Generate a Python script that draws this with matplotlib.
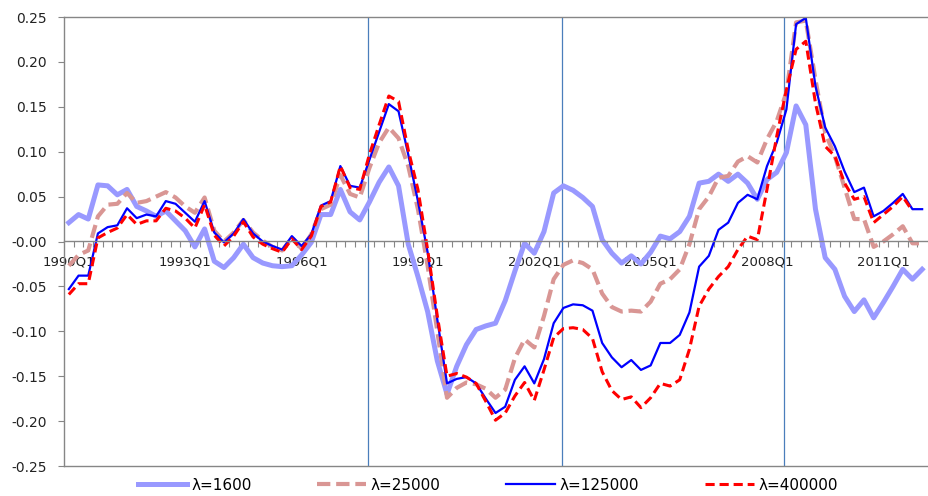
import matplotlib
matplotlib.use("Agg")
import matplotlib.pyplot as plt
from matplotlib.ticker import FixedLocator, FormatStrFormatter
import numpy as np

plt.rcParams['font.family'] = ['DejaVu Sans']
plt.rcParams['axes.unicode_minus'] = False

# quarterly gaps, 1990Q1 .. 2012Q1
lam_1600 = [0.021, 0.030, 0.025, 0.063, 0.062, 0.052, 0.058, 0.039, 0.034, 0.028,
            0.034, 0.023, 0.012, -0.006, 0.014, -0.022, -0.029, -0.018, -0.003, -0.018,
            -0.024, -0.027, -0.028, -0.027, -0.015, -0.001, 0.030, 0.030, 0.058, 0.033,
            0.024, 0.044, 0.066, 0.083, 0.062, -0.003, -0.039, -0.078, -0.133, -0.170,
            -0.139, -0.115, -0.098, -0.094, -0.091, -0.066, -0.033, -0.002, -0.013, 0.011,
            0.054, 0.062, 0.057, 0.049, 0.039, 0.002, -0.013, -0.024, -0.016, -0.025,
            -0.012, 0.006, 0.003, 0.011, 0.028, 0.065, 0.067, 0.075, 0.067, 0.075,
            0.065, 0.047, 0.069, 0.077, 0.099, 0.151, 0.130, 0.036, -0.018, -0.031,
            -0.061, -0.078, -0.065, -0.085, -0.068, -0.050, -0.031, -0.042, -0.031]
lam_25000 = [-0.027, -0.015, -0.010, 0.028, 0.041, 0.042, 0.054, 0.043, 0.045, 0.050,
             0.055, 0.049, 0.039, 0.032, 0.049, 0.012, 0.000, 0.010, 0.024, 0.010,
             0.001, -0.006, -0.010, 0.004, -0.008, 0.008, 0.036, 0.041, 0.074, 0.053,
             0.049, 0.082, 0.110, 0.127, 0.115, 0.084, 0.036, -0.027, -0.100, -0.174,
             -0.163, -0.157, -0.159, -0.164, -0.174, -0.165, -0.130, -0.109, -0.118, -0.083,
             -0.042, -0.026, -0.021, -0.024, -0.031, -0.058, -0.073, -0.078, -0.077, -0.078,
             -0.067, -0.047, -0.042, -0.031, -0.003, 0.036, 0.050, 0.071, 0.073, 0.089,
             0.095, 0.088, 0.114, 0.134, 0.166, 0.244, 0.246, 0.180, 0.121, 0.095,
             0.060, 0.025, 0.025, -0.006, 0.000, 0.008, 0.017, -0.002, -0.002]
lam_125000 = [-0.053, -0.038, -0.038, 0.009, 0.016, 0.018, 0.037, 0.026, 0.030, 0.028,
              0.045, 0.042, 0.032, 0.022, 0.045, 0.010, -0.001, 0.009, 0.025, 0.009,
              0.000, -0.005, -0.009, 0.006, -0.005, 0.008, 0.040, 0.045, 0.084, 0.062,
              0.060, 0.091, 0.122, 0.153, 0.145, 0.097, 0.045, -0.012, -0.087, -0.158,
              -0.153, -0.151, -0.158, -0.175, -0.191, -0.184, -0.154, -0.139, -0.158, -0.131,
              -0.091, -0.074, -0.070, -0.071, -0.077, -0.113, -0.129, -0.140, -0.132, -0.143,
              -0.138, -0.113, -0.113, -0.104, -0.079, -0.028, -0.016, 0.013, 0.021, 0.043,
              0.052, 0.047, 0.084, 0.110, 0.147, 0.242, 0.249, 0.173, 0.127, 0.106,
              0.078, 0.055, 0.060, 0.028, 0.034, 0.043, 0.053, 0.036, 0.036]
lam_400000 = [-0.059, -0.047, -0.047, 0.004, 0.010, 0.015, 0.030, 0.019, 0.023, 0.023,
              0.037, 0.034, 0.026, 0.015, 0.041, 0.007, -0.005, 0.006, 0.022, 0.005,
              -0.003, -0.008, -0.012, 0.003, -0.009, 0.006, 0.039, 0.044, 0.084, 0.060,
              0.058, 0.097, 0.130, 0.162, 0.156, 0.102, 0.058, -0.009, -0.083, -0.150,
              -0.147, -0.151, -0.158, -0.178, -0.199, -0.191, -0.172, -0.157, -0.177, -0.143,
              -0.107, -0.097, -0.096, -0.098, -0.108, -0.145, -0.166, -0.176, -0.173, -0.185,
              -0.174, -0.158, -0.161, -0.154, -0.120, -0.072, -0.053, -0.039, -0.028, -0.009,
              0.006, 0.002, 0.058, 0.117, 0.169, 0.214, 0.223, 0.154, 0.106, 0.095,
              0.065, 0.047, 0.050, 0.021, 0.030, 0.039, 0.050, 0.034]

start_year = 1990
label_every = 12
event_pos = [30.85, 50.85, 73.8]   # vertical markers, in quarters from 1990Q1

n = len(lam_1600)
quarters = [f"{start_year + k // 4}Q{k % 4 + 1}" for k in range(n)]

fig = plt.figure(figsize=(9.29, 4.96), dpi=100)
ax = fig.add_axes([64 / 929, 30 / 496, 863 / 929, 449 / 496])

ax.plot(np.arange(len(lam_1600)), lam_1600, color='#9999FF', lw=3.6,
        solid_joinstyle='round', label='λ=1600')
ax.plot(np.arange(len(lam_25000)), lam_25000, color='#D99694', lw=3.0,
        dashes=(3.2, 1.4), label='λ=25000')
ax.plot(np.arange(len(lam_125000)), lam_125000, color='#0000FF', lw=1.6,
        label='λ=125000')
ax.plot(np.arange(len(lam_400000)), lam_400000, color='#FF0000', lw=2.2,
        dashes=(3.0, 1.6), label='λ=400000')

for xv in event_pos:
    ax.axvline(xv, color='#4A7EBB', lw=0.9, zorder=0)

ax.set_xlim(-0.5, n - 0.5)
ax.set_ylim(-0.25, 0.25)

# y axis
ax.set_yticks(np.arange(-0.25, 0.2501, 0.05))
ax.yaxis.set_major_formatter(FormatStrFormatter('%.2f'))
ax.tick_params(axis='y', direction='out', length=4.5, width=0.8, color='#868686',
               labelsize=10, labelcolor='#222222', pad=8)

# x axis sits at zero, ticks between quarters, labels every 3 years
ax.spines['bottom'].set_position(('data', 0))
ax.set_xticks(np.arange(0, n, label_every))
ax.set_xticklabels(quarters[::label_every])
ax.xaxis.set_minor_locator(FixedLocator(np.arange(0.5, n - 0.5, 1)))
ax.tick_params(axis='x', which='major', length=0, labelsize=9.5,
               labelcolor='#222222', pad=10)
ax.tick_params(axis='x', which='minor', direction='out', length=4, width=0.8,
               color='#868686')

for s in ['left', 'bottom', 'top']:
    ax.spines[s].set_color('#868686')
    ax.spines[s].set_linewidth(1.0)
ax.spines['right'].set_visible(False)
ax.axhline(-0.25, color='#868686', lw=1.0, clip_on=False)

fig.legend(loc='center', bbox_to_anchor=(0.525, 0.022), ncol=4, frameon=False,
           fontsize=11, handlelength=3.2, columnspacing=4.3, handletextpad=0.3)

fig.savefig('out.png', dpi=100)
